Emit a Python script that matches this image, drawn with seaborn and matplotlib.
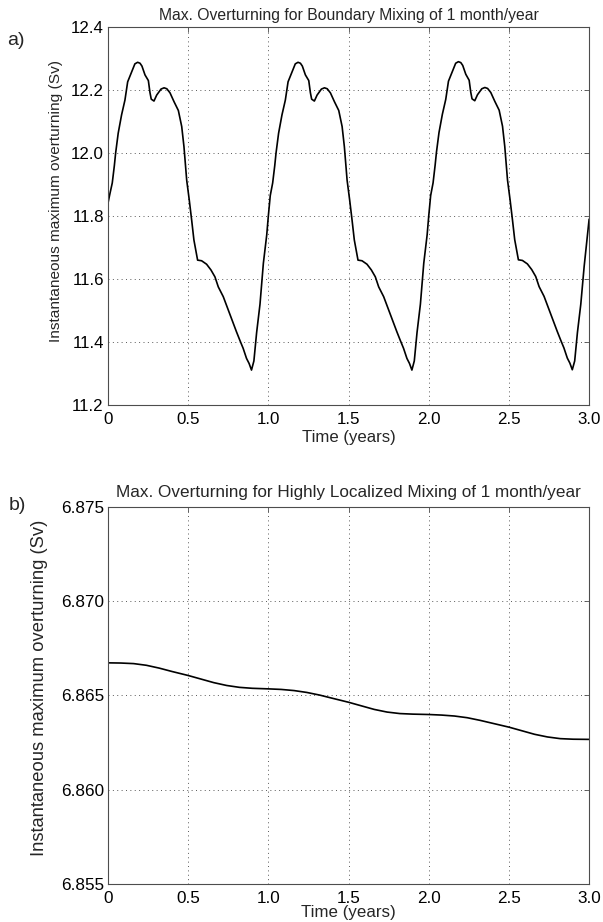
import matplotlib
matplotlib.use("Agg")
import matplotlib.pyplot as plt
import seaborn as sns
import pandas as pd

# ---------------- data ----------------
time_a = [
    0.000, 0.012, 0.027, 0.040, 0.048, 0.064, 0.085, 0.106, 0.123, 0.148,
    0.168, 0.185, 0.200, 0.212, 0.231, 0.252, 0.262, 0.270, 0.287, 0.304,
    0.331, 0.350, 0.367, 0.387, 0.412, 0.439, 0.460, 0.474, 0.491, 0.507,
    0.522, 0.536, 0.559, 0.584, 0.615, 0.642, 0.667, 0.688, 0.719, 0.750,
    0.782, 0.801, 0.822, 0.843, 0.864, 0.880, 0.895, 0.910, 0.927, 0.948,
    0.969, 0.990,
    1.000, 1.012, 1.027, 1.040, 1.048, 1.064, 1.085, 1.106, 1.123, 1.148,
    1.168, 1.185, 1.200, 1.212, 1.231, 1.252, 1.262, 1.270, 1.287, 1.304,
    1.331, 1.350, 1.367, 1.387, 1.412, 1.439, 1.460, 1.474, 1.491, 1.507,
    1.522, 1.536, 1.559, 1.584, 1.615, 1.642, 1.667, 1.688, 1.719, 1.750,
    1.782, 1.801, 1.822, 1.843, 1.864, 1.880, 1.895, 1.910, 1.927, 1.948,
    1.969, 1.990,
    2.000, 2.012, 2.027, 2.040, 2.048, 2.064, 2.085, 2.106, 2.123, 2.148,
    2.168, 2.185, 2.200, 2.212, 2.231, 2.252, 2.262, 2.270, 2.287, 2.304,
    2.331, 2.350, 2.367, 2.387, 2.412, 2.439, 2.460, 2.474, 2.491, 2.507,
    2.522, 2.536, 2.559, 2.584, 2.615, 2.642, 2.667, 2.688, 2.719, 2.750,
    2.782, 2.801, 2.822, 2.843, 2.864, 2.880, 2.895, 2.910, 2.927, 2.948,
    2.969, 2.990, 3.000,
]
overturning_a = [
    11.840, 11.870, 11.905, 11.960, 12.000, 12.063, 12.121, 12.168, 12.226, 12.258,
    12.283, 12.288, 12.285, 12.276, 12.248, 12.230, 12.192, 12.171, 12.165, 12.184,
    12.203, 12.207, 12.204, 12.191, 12.163, 12.135, 12.084, 12.020, 11.914, 11.851,
    11.787, 11.724, 11.660, 11.658, 11.647, 11.629, 11.607, 11.575, 11.544, 11.502,
    11.459, 11.433, 11.406, 11.380, 11.348, 11.332, 11.311, 11.340, 11.430, 11.520,
    11.650, 11.740,
    11.800, 11.865, 11.905, 11.960, 12.000, 12.063, 12.121, 12.168, 12.226, 12.258,
    12.283, 12.288, 12.285, 12.276, 12.248, 12.230, 12.192, 12.171, 12.165, 12.184,
    12.203, 12.207, 12.204, 12.191, 12.163, 12.135, 12.084, 12.020, 11.914, 11.851,
    11.787, 11.724, 11.660, 11.658, 11.647, 11.629, 11.607, 11.575, 11.544, 11.502,
    11.459, 11.433, 11.406, 11.380, 11.348, 11.332, 11.311, 11.340, 11.430, 11.520,
    11.650, 11.740,
    11.800, 11.865, 11.905, 11.962, 12.002, 12.065, 12.123, 12.170, 12.228, 12.260,
    12.285, 12.290, 12.287, 12.278, 12.250, 12.231, 12.193, 12.172, 12.166, 12.185,
    12.204, 12.208, 12.205, 12.192, 12.164, 12.136, 12.085, 12.021, 11.915, 11.852,
    11.788, 11.725, 11.661, 11.659, 11.648, 11.630, 11.608, 11.576, 11.545, 11.503,
    11.460, 11.434, 11.407, 11.381, 11.349, 11.333, 11.312, 11.340, 11.430, 11.520,
    11.640, 11.740, 11.790,
]

time_b = [0.00, 0.08, 0.16, 0.24, 0.32, 0.40, 0.50, 0.58, 0.66, 0.74, 0.82, 0.90,
          1.00, 1.08, 1.16, 1.24, 1.32, 1.40, 1.50, 1.58, 1.66, 1.74, 1.82, 1.90,
          2.00, 2.08, 2.16, 2.24, 2.32, 2.40, 2.50, 2.58, 2.66, 2.74, 2.82, 2.90,
          3.00]
overturning_b = [6.86673, 6.86672, 6.86669, 6.86660, 6.86645, 6.86627, 6.86606,
                 6.86587, 6.86568, 6.86553, 6.86543, 6.86538,
                 6.86535, 6.86532, 6.86526, 6.86516, 6.86502, 6.86485, 6.86464,
                 6.86445, 6.86426, 6.86412, 6.86404, 6.86401,
                 6.86399, 6.86396, 6.86391, 6.86382, 6.86368, 6.86352, 6.86332,
                 6.86313, 6.86294, 6.86280, 6.86271, 6.86268,
                 6.86267]

xticks = [0.0, 0.5, 1.0, 1.5, 2.0, 2.5, 3.0]
xtick_labels = ["0", "0.5", "1.0", "1.5", "2.0", "2.5", "3.0"]
yticks_a = [11.2, 11.4, 11.6, 11.8, 12.0, 12.2, 12.4]
ytick_labels_a = ["11.2", "11.4", "11.6", "11.8", "12.0", "12.2", "12.4"]
yticks_b = [6.855, 6.860, 6.865, 6.870, 6.875]
ytick_labels_b = ["6.855", "6.860", "6.865", "6.870", "6.875"]

title_a = "Max. Overturning for Boundary Mixing of 1 month/year"
title_b = "Max. Overturning for Highly Localized Mixing of 1 month/year"
xlabel = "Time (years)"
ylabel = "Instantaneous maximum overturning (Sv)"

# ---------------- style ----------------
sns.set_style("white")
plt.rcParams["font.family"] = ["Liberation Sans", "DejaVu Sans"]
plt.rcParams["axes.edgecolor"] = "0.3"
plt.rcParams["axes.linewidth"] = 0.8

fig = plt.figure(figsize=(6.03, 9.22), dpi=100)
ax_a = fig.add_axes([0.179, 0.5607, 0.798, 0.41])
ax_b = fig.add_axes([0.179, 0.0412, 0.798, 0.409])

df_a = pd.DataFrame({"t": time_a, "v": overturning_a})
df_b = pd.DataFrame({"t": time_b, "v": overturning_b})

sns.lineplot(data=df_a, x="t", y="v", ax=ax_a, color="black", lw=1.2,
             estimator=None, sort=False)
sns.lineplot(data=df_b, x="t", y="v", ax=ax_b, color="black", lw=1.2,
             estimator=None, sort=False)


def style(ax, yticks, ylabels, title, title_fs, title_pad, ylabel_fs,
          tick_fs, xlabel_fs, xlabel_pad, ylab_x, ylab_y):
    ax.set_xlim(0, 3)
    ax.set_ylim(yticks[0], yticks[-1])
    ax.set_xticks(xticks)
    ax.set_xticklabels(xtick_labels)
    ax.set_yticks(yticks)
    ax.set_yticklabels(ylabels)
    ax.tick_params(direction="in", length=3.5, width=0.6, color="0.3",
                   top=True, right=True, labelsize=tick_fs, labelcolor="black")
    ax.tick_params(axis="x", pad=5)
    ax.tick_params(axis="y", pad=3)
    ax.grid(True, color="0.35", linestyle=(0, (1, 3.5)), linewidth=0.7)
    ax.set_title(title, fontsize=title_fs, pad=title_pad)
    ax.set_xlabel(xlabel, fontsize=xlabel_fs, labelpad=xlabel_pad)
    ax.set_ylabel(ylabel, fontsize=ylabel_fs)
    ax.yaxis.set_label_coords(ylab_x, ylab_y)
    for s in ax.spines.values():
        s.set_visible(True)


style(ax_a, yticks_a, ytick_labels_a, title_a, 11.3, 5, 11.1, 12.2, 12.1, 2.5,
      -0.094, 0.54)
style(ax_b, yticks_b, ytick_labels_b, title_b, 12.3, 7, 13.2, 12.3, 12.2, -0.5,
      -0.125, 0.52)

fig.text(0.012, 0.9566, "a)", fontsize=14, ha="left", va="center")
fig.text(0.014, 0.452, "b)", fontsize=14, ha="left", va="center")

fig.savefig("out.png", dpi=100)
